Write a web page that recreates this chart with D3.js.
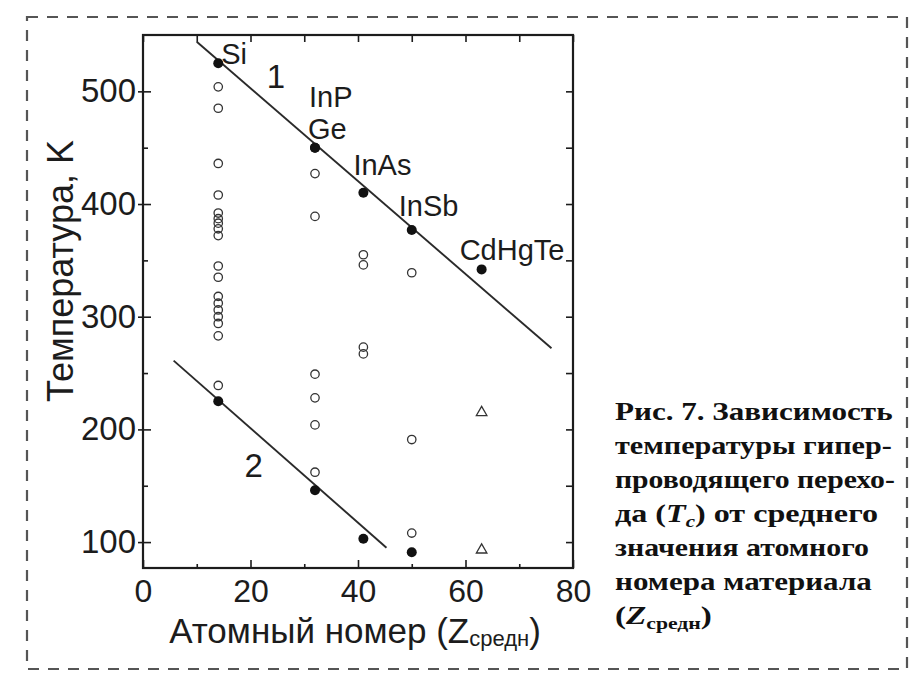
<!DOCTYPE html>
<html>
<head>
<meta charset="utf-8">
<script src="https://cdn.jsdelivr.net/npm/d3@7"></script>
<style>
  html, body { margin: 0; padding: 0; background: #fff; }
  svg { display: block; }
</style>
</head>
<body>
<svg id="chart" width="919" height="682"></svg>
<script>
// Axis ticks: average atomic number Z and temperature, K
const zTicks = [0, 20, 40, 60, 80];
const zMinorTicks = [10, 30, 50, 70];
const tTicks = [100, 200, 300, 400, 500];
const tMinorTicks = [150, 250, 350, 450];

// Curve 1: named semiconductors (filled dots); InP shares Z = 32 with Ge
const materialNames = ["Si", "InP", "Ge", "InAs", "InSb", "CdHgTe"];
const materialZ = [14, 32, 32, 41, 50, 63];
const materialTc = [525, 450, 450, 410, 377, 342];

// Curve 2: filled dots
const lowZ = [14, 32, 41, 50];
const lowTc = [225, 146, 103, 91];

// Other measured samples (open circles)
const openZ = [14, 14, 14, 14, 14, 14, 14, 14, 14, 14, 14, 14, 14, 14, 14, 14, 14, 14,
               32, 32, 32, 32, 32, 32,
               41, 41, 41, 41,
               50, 50, 50];
const openTc = [504, 485, 436, 408, 392, 387, 383, 378, 372, 345, 335, 318, 312, 306, 300, 294, 283, 239,
                427, 389, 249, 228, 204, 162,
                355, 346, 273, 267,
                339, 191, 108];

// Triangles
const triZ = [63, 63];
const triTc = [215, 93];

// Straight fits
const fit1Z = [10, 76];
const fit1Tc = [544, 272];
const fit2Z = [5.7, 45.3];
const fit2Tc = [261, 95];

// Curve numbers
const curveNames = ["1", "2"];
const curveNameZ = [23, 18.9];
const curveNameTc = [503, 158];

// Caption lines
const captionLines = [
  [{t: "Рис. 7. Зависимость"}],
  [{t: "температуры гипер-"}],
  [{t: "проводящего перехо-"}],
  [{t: "да ("}, {t: "T", it: true}, {t: "c", it: true, sub: true}, {t: ") от среднего"}],
  [{t: "значения атомного"}],
  [{t: "номера материала"}],
  [{t: "("}, {t: "Z", it: true}, {t: "средн", sub: true}, {t: ")"}]
];

// ---- layout ----
const svg = d3.select("#chart");
const ink = "#1c1c1c";
const sans = "'Liberation Sans', Arial, sans-serif";
const serif = "'Liberation Serif', 'Times New Roman', serif";
const box = {left: 143, right: 573, top: 35, bottom: 568};

const x = d3.scaleLinear().domain([0, 80]).range([box.left, box.right]);
const y = d3.scaleLinear().domain([77, 550]).range([box.bottom, box.top]);

// dashed frame around figure + caption
svg.append("rect")
  .attr("x", 27).attr("y", 17).attr("width", 880).attr("height", 652)
  .attr("fill", "none").attr("stroke", "#555").attr("stroke-width", 2.2)
  .attr("stroke-dasharray", "11 9");

// axes
function styleAxis(g) {
  g.select(".domain").remove();
  g.selectAll("line").attr("stroke", ink).attr("stroke-width", 1.6);
  g.selectAll("text").attr("fill", ink).attr("font-family", sans).attr("font-size", 32);
}

// bottom: labelled major ticks inward, minor inward
svg.append("g").attr("transform", `translate(0,${box.bottom})`)
  .call(d3.axisBottom(x).tickValues(zTicks).tickSizeInner(-8).tickSizeOuter(0).tickFormat(d3.format("d")))
  .call(styleAxis)
  .call(g => g.selectAll("text").attr("y", 34).attr("dy", 0));
svg.append("g").attr("transform", `translate(0,${box.bottom})`)
  .call(d3.axisBottom(x).tickValues(zMinorTicks).tickSizeInner(-4).tickSizeOuter(0).tickFormat(""))
  .call(styleAxis);

// top: inward ticks
svg.append("g").attr("transform", `translate(0,${box.top})`)
  .call(d3.axisTop(x).tickValues(zTicks.concat(zMinorTicks)).tickSizeInner(-7).tickSizeOuter(0).tickFormat(""))
  .call(styleAxis);

// left: major ticks cross the axis, minor inward
svg.append("g").attr("transform", `translate(${box.left},0)`)
  .call(d3.axisLeft(y).tickValues(tTicks).tickSizeInner(5).tickSizeOuter(0).tickPadding(2).tickFormat(d3.format("d")))
  .call(styleAxis)
  .call(g => g.selectAll("text").attr("font-size", 33));
svg.append("g").attr("transform", `translate(${box.left},0)`)
  .call(d3.axisLeft(y).tickValues(tTicks).tickSizeInner(-8).tickSizeOuter(0).tickFormat(""))
  .call(styleAxis);
svg.append("g").attr("transform", `translate(${box.left},0)`)
  .call(d3.axisLeft(y).tickValues(tMinorTicks).tickSizeInner(-5).tickSizeOuter(0).tickFormat(""))
  .call(styleAxis);

// right: inward ticks
svg.append("g").attr("transform", `translate(${box.right},0)`)
  .call(d3.axisRight(y).tickValues(tTicks.concat(tMinorTicks)).tickSizeInner(-7).tickSizeOuter(0).tickFormat(""))
  .call(styleAxis);

// plot frame
svg.append("rect")
  .attr("x", box.left).attr("y", box.top)
  .attr("width", box.right - box.left).attr("height", box.bottom - box.top)
  .attr("fill", "none").attr("stroke", ink).attr("stroke-width", 2.2);

// axis titles
svg.append("text")
  .attr("x", 355).attr("y", 643)
  .attr("text-anchor", "middle")
  .attr("font-family", sans).attr("font-size", 35).attr("fill", ink)
  .call(t => {
    t.append("tspan").text("Атомный номер (Z");
    t.append("tspan").attr("font-size", 22).attr("dy", 3).text("средн");
    t.append("tspan").attr("dy", -3).text(")");
  });

svg.append("text")
  .attr("transform", "translate(73,271) rotate(-90)")
  .attr("text-anchor", "middle")
  .attr("font-family", sans).attr("font-size", 36).attr("fill", ink)
  .text("Температура, K");

// fitted lines
const line = d3.line().x(d => x(d[0])).y(d => y(d[1]));
svg.append("path").datum(d3.zip(fit1Z, fit1Tc))
  .attr("d", line).attr("fill", "none").attr("stroke", "#2a2a2a").attr("stroke-width", 1.9);
svg.append("path").datum(d3.zip(fit2Z, fit2Tc))
  .attr("d", line).attr("fill", "none").attr("stroke", "#2a2a2a").attr("stroke-width", 1.9);

// open circles
svg.append("g").selectAll("circle").data(d3.zip(openZ, openTc)).join("circle")
  .attr("cx", d => x(d[0])).attr("cy", d => y(d[1])).attr("r", 4.2)
  .attr("fill", "none").attr("stroke", "#333").attr("stroke-width", 1.3);

// triangles
svg.append("g").selectAll("path").data(d3.zip(triZ, triTc)).join("path")
  .attr("transform", d => `translate(${x(d[0])},${y(d[1])})`)
  .attr("d", d3.symbol(d3.symbolTriangle, 48))
  .attr("fill", "none").attr("stroke", "#333").attr("stroke-width", 1.3);

// filled dots
svg.append("g").selectAll("circle").data(d3.zip(materialZ, materialTc).concat(d3.zip(lowZ, lowTc))).join("circle")
  .attr("cx", d => x(d[0])).attr("cy", d => y(d[1])).attr("r", 5)
  .attr("fill", "#111");

// material labels (offsets in px from their dots)
const labelOffset = {Si: [3, 1], InP: [-6, -41], Ge: [-7, -9], InAs: [-10, -18], InSb: [-13, -14], CdHgTe: [-22, -9]};
svg.append("g").selectAll("text").data(materialNames).join("text")
  .attr("x", (d, i) => x(materialZ[i]) + labelOffset[d][0])
  .attr("y", (d, i) => y(materialTc[i]) + labelOffset[d][1])
  .attr("font-family", sans).attr("font-size", 29).attr("fill", ink)
  .text(d => d);

// curve numbers
svg.append("g").selectAll("text").data(curveNames).join("text")
  .attr("x", (d, i) => x(curveNameZ[i])).attr("y", (d, i) => y(curveNameTc[i]))
  .attr("font-family", sans).attr("font-size", 33).attr("fill", ink)
  .text(d => d);

// caption, each line stretched to its set width
const capX = 615, capY0 = 420, capStep = 34;
const capRight = [893, 892, 895, 878, 869, 872, 712];
captionLines.forEach((parts, i) => {
  const t = svg.append("text")
    .attr("x", capX).attr("y", capY0 + i * capStep)
    .attr("font-family", serif).attr("font-size", 26).attr("font-weight", "bold").attr("fill", "#111");
  parts.forEach((p, j) => {
    const s = t.append("tspan").text(p.t);
    if (p.it) s.attr("font-style", "italic");
    if (p.sub) s.attr("font-size", 17).attr("dy", 5);
    else if (j > 0 && parts[j - 1].sub) s.attr("dy", -5);
  });
  const w = t.node().getBBox().width;
  const k = (capRight[i] - capX) / w;
  t.attr("transform", `translate(${capX},0) scale(${k},1) translate(${-capX},0)`);
});
</script>
</body>
</html>
